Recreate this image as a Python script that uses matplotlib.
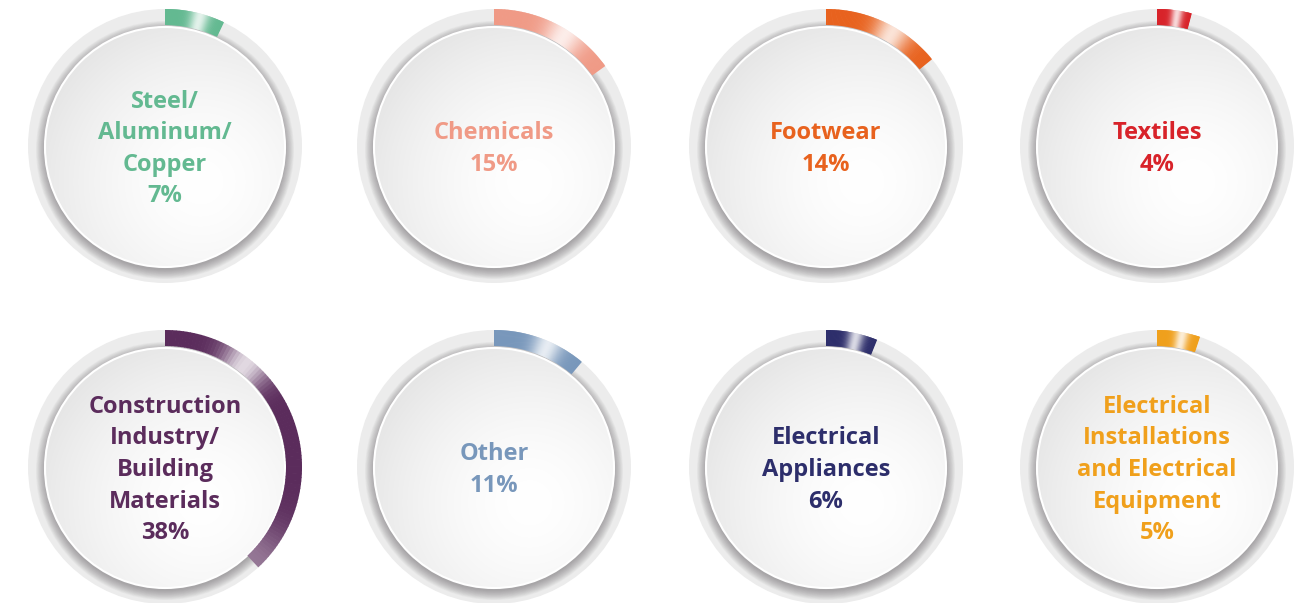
import numpy as np
import matplotlib
matplotlib.use('Agg')
import matplotlib.pyplot as plt
from matplotlib.patches import Circle, Wedge
from matplotlib.colors import to_rgb

# shares of each sector (percent)
labels = ['Steel/\nAluminum/\nCopper', 'Chemicals', 'Footwear', 'Textiles',
          'Construction\nIndustry/\nBuilding\nMaterials', 'Other',
          'Electrical\nAppliances',
          'Electrical\nInstallations\nand Electrical\nEquipment']
shares = [7, 15, 14, 4, 38, 11, 6, 5]
colors = ['#63b991', '#f09a86', '#e8621e', '#d8232a',
          '#5b2c5c', '#7897bb', '#2d2e6b', '#f0a01c']

col_x = [165, 494, 826, 1157]
row_y = [146, 467]
R_OUT = 137
R_IN = 121
R_DISC = 120


def mix(c, t):
    c = np.array(to_rgb(c))
    return tuple(c + (1 - c) * t)


def gauge(ax, cx, cy, pct, color, label):
    # outer ring
    ax.add_patch(Circle((cx, cy), R_OUT, color='#ececec', lw=0, zorder=1))
    # soft shadow below the white disc
    for k in range(14):
        ax.add_patch(Circle((cx, cy + 4), 129 - k * 0.7, color='#6a666a',
                            alpha=0.048, lw=0, zorder=2))
    # white disc with a light radial gradient
    n = 200
    xs = np.linspace(cx - R_DISC, cx + R_DISC, n)
    ys = np.linspace(cy + 1 - R_DISC, cy + 1 + R_DISC, n)
    X, Y = np.meshgrid(xs, ys)
    d = np.hypot(X - (cx + 0.3 * R_DISC), Y - (cy + 0.3 * R_DISC)) / (1.6 * R_DISC)
    g = 1 - 0.12 * np.clip(d, 0, 1) ** 1.6
    img = np.dstack([g, g, g])
    im = ax.imshow(img, extent=(xs[0], xs[-1], ys[0], ys[-1]), origin='lower',
                   zorder=3, interpolation='bilinear')
    disc = Circle((cx, cy + 1), R_DISC, transform=ax.transData)
    im.set_clip_path(disc)
    ax.add_patch(Circle((cx, cy + 1), R_DISC, fill=False, ec='white', lw=1.5, zorder=4))

    # coloured arc, clockwise from 12 o'clock, with a glossy highlight
    A = pct * 3.6
    a_h = min(0.6 * A, 38)
    w = max(min(0.16 * A, 11), 2.5)
    seg = 90
    edges = np.linspace(0, A, seg + 1)
    for a0, a1 in zip(edges[:-1], edges[1:]):
        a = (a0 + a1) / 2
        h = 0.82 * np.exp(-((a - a_h) / w) ** 2)
        if A > 90:
            h += 0.35 * np.exp(-((a - A) / 18) ** 2)
        ax.add_patch(Wedge((cx, cy), R_OUT, -90 + a0, -90 + a1 + 0.3,
                           width=R_OUT - R_IN, color=mix(color, min(h, 0.9)),
                           lw=0, zorder=5))

    ax.text(cx, cy + 3, label + '\n' + f'{pct}%', ha='center', va='center',
            color=color, fontsize=17, fontweight='bold', family='Open Sans',
            linespacing=1.42, zorder=6)


fig = plt.figure(figsize=(13, 6.03), dpi=100)
ax = fig.add_axes([0, 0, 1, 1])
ax.set_xlim(0, 1300)
ax.set_ylim(603, 0)
ax.axis('off')

for i in range(len(shares)):
    gauge(ax, col_x[i % 4], row_y[i // 4], shares[i], colors[i], labels[i])

fig.savefig('out.png', dpi=100, facecolor='white')
